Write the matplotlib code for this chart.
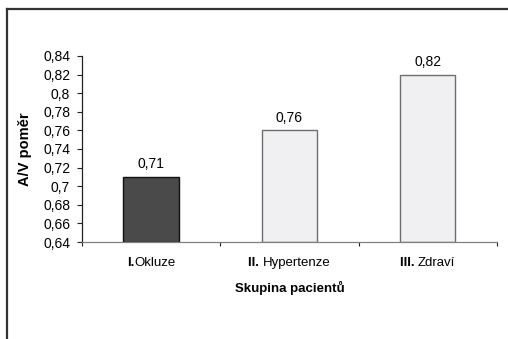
import matplotlib
matplotlib.use("Agg")
import matplotlib.pyplot as plt
from matplotlib.lines import Line2D
from matplotlib.transforms import offset_copy

plt.rcParams['font.family'] = ['Liberation Sans', 'DejaVu Sans']

# data
group_nums = ["I.", "II. ", "III. "]
group_names = ["Okluze", "Hypertenze", "Zdraví"]
ratios = [0.71, 0.76, 0.82]
value_labels = ["0,71", "0,76", "0,82"]
yticks = [0.64, 0.66, 0.68, 0.70, 0.72, 0.74, 0.76, 0.78, 0.80, 0.82, 0.84]
ytick_labels = ["0,64", "0,66", "0,68", "0,7", "0,72", "0,74", "0,76",
                "0,78", "0,8", "0,82", "0,84"]

face = ["#4a4a4a", "#f0f0f2", "#f0f0f2"]
edge = ["#111111", "#6e6e6e", "#6e6e6e"]

fig = plt.figure(figsize=(5.08, 3.39), dpi=100)
ax = fig.add_axes([0.1614, 0.286, 0.8166, 0.549])

x = list(range(len(group_names)))
bars = ax.bar(x, [r - 0.64 for r in ratios], bottom=0.64, width=0.40,
              color=face, edgecolor=edge, linewidth=1.0, zorder=2)

for b, lab in zip(bars, value_labels):
    ax.annotate(lab, (b.get_x() + b.get_width() / 2, b.get_y() + b.get_height()),
                xytext=(0, 4), textcoords='offset points',
                ha='center', va='bottom', fontsize=10)

ax.set_xlim(-0.5, 2.5)
ax.set_ylim(0.64, 0.84)
ax.set_yticks(yticks)
ax.set_yticklabels(ytick_labels, fontsize=10)
ax.set_xticks(x)
ax.set_xticklabels([])
ax.set_xticks([-0.5, 0.5, 1.5, 2.5], minor=True)
ax.tick_params(axis='x', which='major', length=0)
ax.tick_params(axis='x', which='minor', length=3, width=0.8, color='#222222')
ax.tick_params(axis='y', length=3.5, width=0.8, pad=5, color='#222222')

for s in ['top', 'right']:
    ax.spines[s].set_visible(False)
ax.spines['left'].set_color('#222222')
ax.spines['left'].set_linewidth(0.9)
ax.spines['bottom'].set_color('#808080')
ax.spines['bottom'].set_linewidth(0.9)

# category labels: bold roman numeral + normal name, centred together
renderer = fig.canvas.get_renderer()
trans = ax.get_xaxis_transform()
for xi, num, name in zip(x, group_nums, group_names):
    t1 = ax.text(xi, -0.115, num, transform=trans, fontsize=9.5, fontweight='bold',
                 ha='left', va='center')
    t2 = ax.text(xi, -0.115, name, transform=trans, fontsize=9.5,
                 ha='left', va='center')
    w1 = t1.get_window_extent(renderer).width
    w2 = t2.get_window_extent(renderer).width
    total = w1 + w2
    t1.set_transform(offset_copy(trans, fig=fig, x=-total / 2, units='dots'))
    t2.set_transform(offset_copy(trans, fig=fig, x=-total / 2 + w1, units='dots'))

ax.set_ylabel("A/V poměr", fontsize=10.5, fontweight='bold')
ax.yaxis.set_label_coords(-0.12, 0.5)
ax.set_xlabel("Skupina pacientů", fontsize=9.5, fontweight='bold')
ax.xaxis.set_label_coords(0.5, -0.21)

# outer frame (top and left only)
fig.add_artist(Line2D([0.0128, 1.0], [0.972, 0.972], transform=fig.transFigure,
                      color='#333333', linewidth=1.6))
fig.add_artist(Line2D([0.0128, 0.0128], [0.0, 0.972], transform=fig.transFigure,
                      color='#333333', linewidth=1.6))

fig.savefig("out.png", dpi=100)
